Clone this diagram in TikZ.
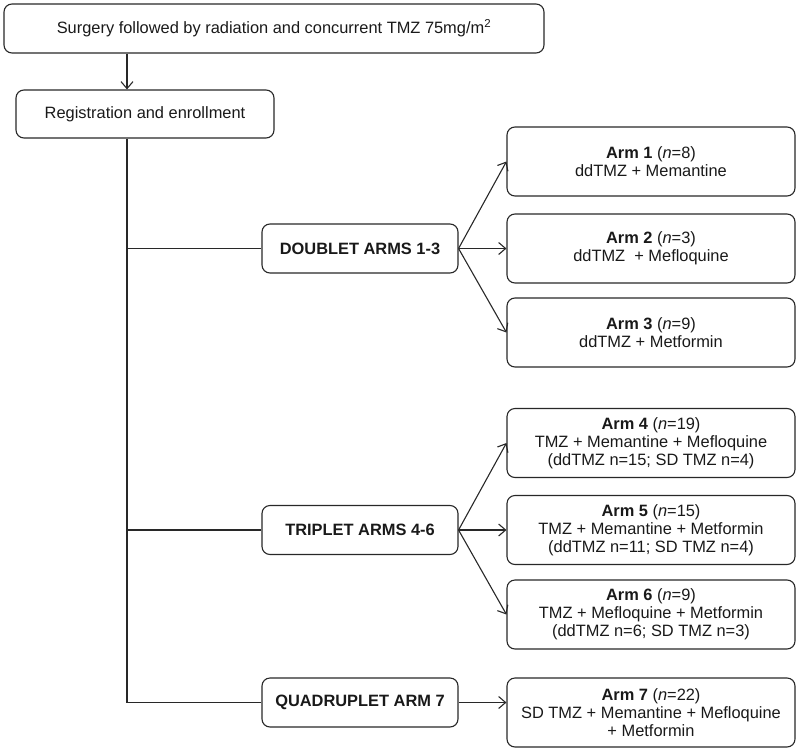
\documentclass[tikz,border=0pt]{standalone}
\usepackage{fontspec}
\setmainfont{Liberation Sans}
\usetikzlibrary{arrows.meta}
\definecolor{ln}{RGB}{40,40,40}
\definecolor{tx}{RGB}{25,25,25}

\begin{document}
\begin{tikzpicture}[x=1pt, y=-1pt,
  every node/.style={inner sep=0pt, font=\fontsize{16.4}{18}\selectfont, text=tx},
  box/.style={draw=ln, line width=1.1pt, rounded corners=8pt, align=center},
  arm/.style={box, minimum width=288pt, minimum height=69pt},
  grp/.style={box, font=\fontsize{16.4}{18}\selectfont\bfseries, minimum width=196pt, minimum height=49pt},
  link/.style={draw=ln, line width=1.1pt},
  arr/.style={link, -{Straight Barb[length=7pt, width=12pt]}}]
\useasboundingbox (0,0) rectangle (800,752);
\coordinate (tk) at (127,0);
\node (surg) [box, minimum width=540pt, minimum height=49pt] at (274,28.5) {Surgery followed by radiation and concurrent TMZ 75mg/m\textsuperscript{2}};
\node (reg) [box, minimum width=258pt, minimum height=48pt] at (145,114) {Registration and enrollment};
\node (dbl) [grp] at (360,248.5) {DOUBLET ARMS 1-3};
\node (tri) [grp] at (360,530) {TRIPLET ARMS 4-6};
\node (quad) [grp] at (360,702.5) {QUADRUPLET ARM 7};
\node (a1) [arm] at (651,161.5) {\textbf{Arm 1} (\textit{n}=8)\\ddTMZ + Memantine};
\node (a2) [arm] at (651,248.5) {\textbf{Arm 2} (\textit{n}=3)\\ddTMZ~~+ Mefloquine};
\node (a3) [arm] at (651,332.5) {\textbf{Arm 3} (\textit{n}=9)\\ddTMZ + Metformin};
\node (a4) [arm] at (651,443) {\textbf{Arm 4} (\textit{n}=19)\\TMZ + Memantine + Mefloquine\\(ddTMZ n=15; SD TMZ n=4)};
\node (a5) [arm] at (651,530) {\textbf{Arm 5} (\textit{n}=15)\\TMZ + Memantine + Metformin\\(ddTMZ n=11; SD TMZ n=4)};
\node (a6) [arm] at (651,614.5) {\textbf{Arm 6} (\textit{n}=9)\\TMZ + Mefloquine + Metformin\\(ddTMZ n=6; SD TMZ n=3)};
\node (a7) [arm] at (651,712.5) {\textbf{Arm 7} (\textit{n}=22)\\SD TMZ + Memantine + Mefloquine\\+ Metformin};
\coordinate (j1) at (tk |- dbl.west);
\coordinate (j2) at (tk |- tri.west);
\draw [arr] (surg.south -| tk) -- (reg.north -| tk);
\draw [link] (reg.south -| tk) |- (quad.west);
\draw [link] (j1) -- (dbl.west);
\draw [link] (j2) -- (tri.west);
\foreach \a in {a1,a2,a3}
  \draw [arr] (dbl.east) -- (\a.west);
\foreach \a in {a4,a5,a6}
  \draw [arr] (tri.east) -- (\a.west);
\draw [arr] (quad.east) -- (quad.east -| a7.west);
\end{tikzpicture}
\end{document}
